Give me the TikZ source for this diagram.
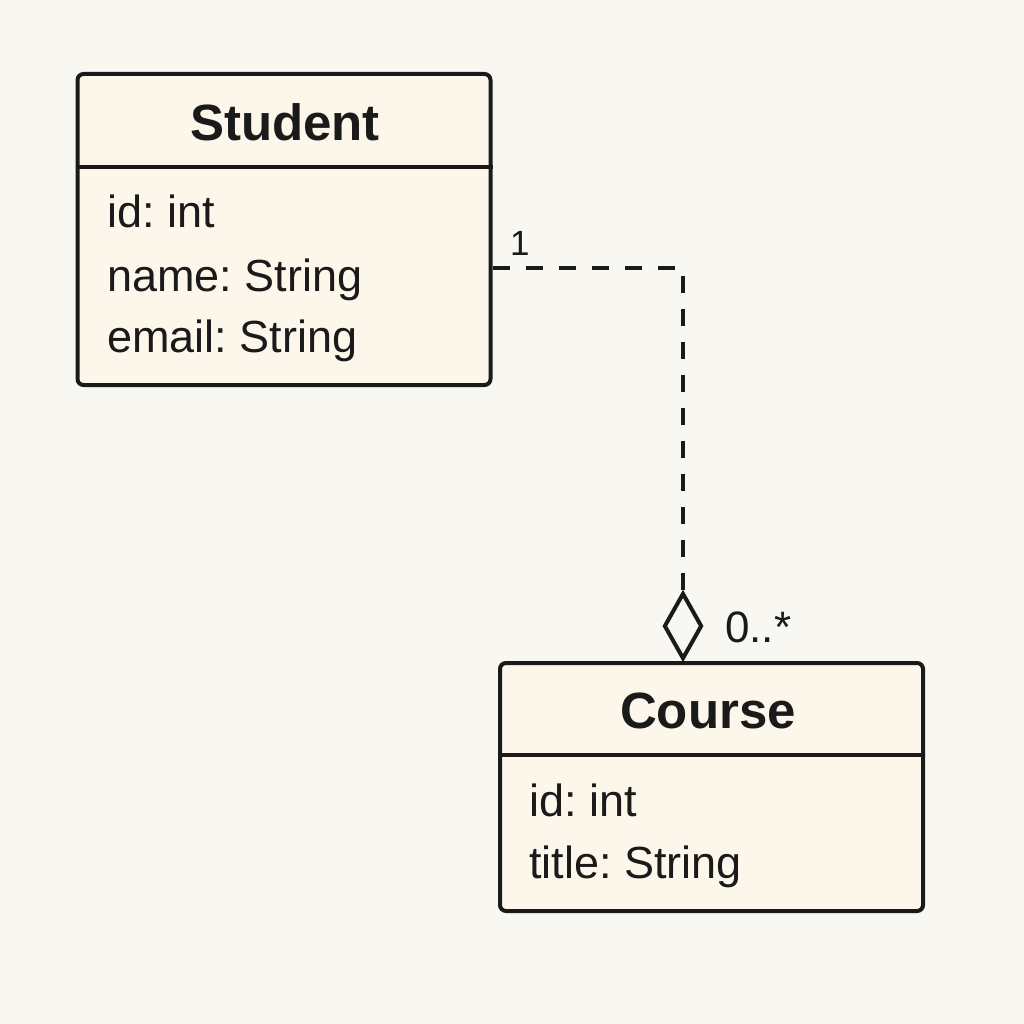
\documentclass[tikz,border=0pt]{standalone}
\usepackage{fontspec}
\setmainfont{Liberation Sans}
\frenchspacing
\usetikzlibrary{shapes.geometric}
\definecolor{paper}{RGB}{249,247,242}
\definecolor{boxfill}{RGB}{253,246,235}
\definecolor{ink}{RGB}{26,26,26}
\tikzset{
  classbox/.style={draw=ink, fill=boxfill, line width=4pt, rounded corners=6pt, inner sep=0pt},
  classname/.style={anchor=base, inner sep=0pt, text=ink, font=\bfseries\fontsize{51}{60}\selectfont},
  attr/.style={anchor=base west, inner sep=0pt, text=ink, font=\fontsize{45}{54}\selectfont},
  mult/.style={anchor=base west, inner sep=0pt, text=ink},
  assoc/.style={draw=ink, line width=3.5pt, dash pattern=on 17pt off 16pt}
}
\begin{document}
\begin{tikzpicture}[x=1pt,y=-1pt]
\fill[paper] (0,0) rectangle (1024,1024);
\useasboundingbox (0,0) rectangle (1024,1024);
\node[classbox, minimum width=413pt, minimum height=311pt] (student) at (284,229.5){};
\draw[ink, line width=4pt] (student.west |- 0,167) -- (student.east |- 0,167);
\node[classname] (studentname) at (285,141){Student};
\node[attr] (studentid) at (107,228){id: int};
\node[attr] (studentname2) at (107,291){name: String};
\node[attr] (studentemail) at (107,352){email: String};
\node[classbox, minimum width=423pt, minimum height=248pt] (course) at (711.5,787){};
\draw[ink, line width=4pt] (course.west |- 0,755) -- (course.east |- 0,755);
\node[classname] (coursename) at (708,728){Course};
\node[attr] (courseid) at (529,816){id: int};
\node[attr] (coursetitle) at (529,878){title: String};
\node[diamond, draw=ink, fill=paper, line width=4pt, inner sep=0pt, minimum width=38pt, minimum height=66pt] (agg) at (683,626){};
\draw[assoc] (student.east |- 0,268) -| (agg.north);
\node[mult, font=\fontsize{35}{42}\selectfont] (multone) at (510,255){1};
\node[mult, font=\fontsize{44}{52}\selectfont] (multmany) at (725,642){0..*};
\end{tikzpicture}
\end{document}
